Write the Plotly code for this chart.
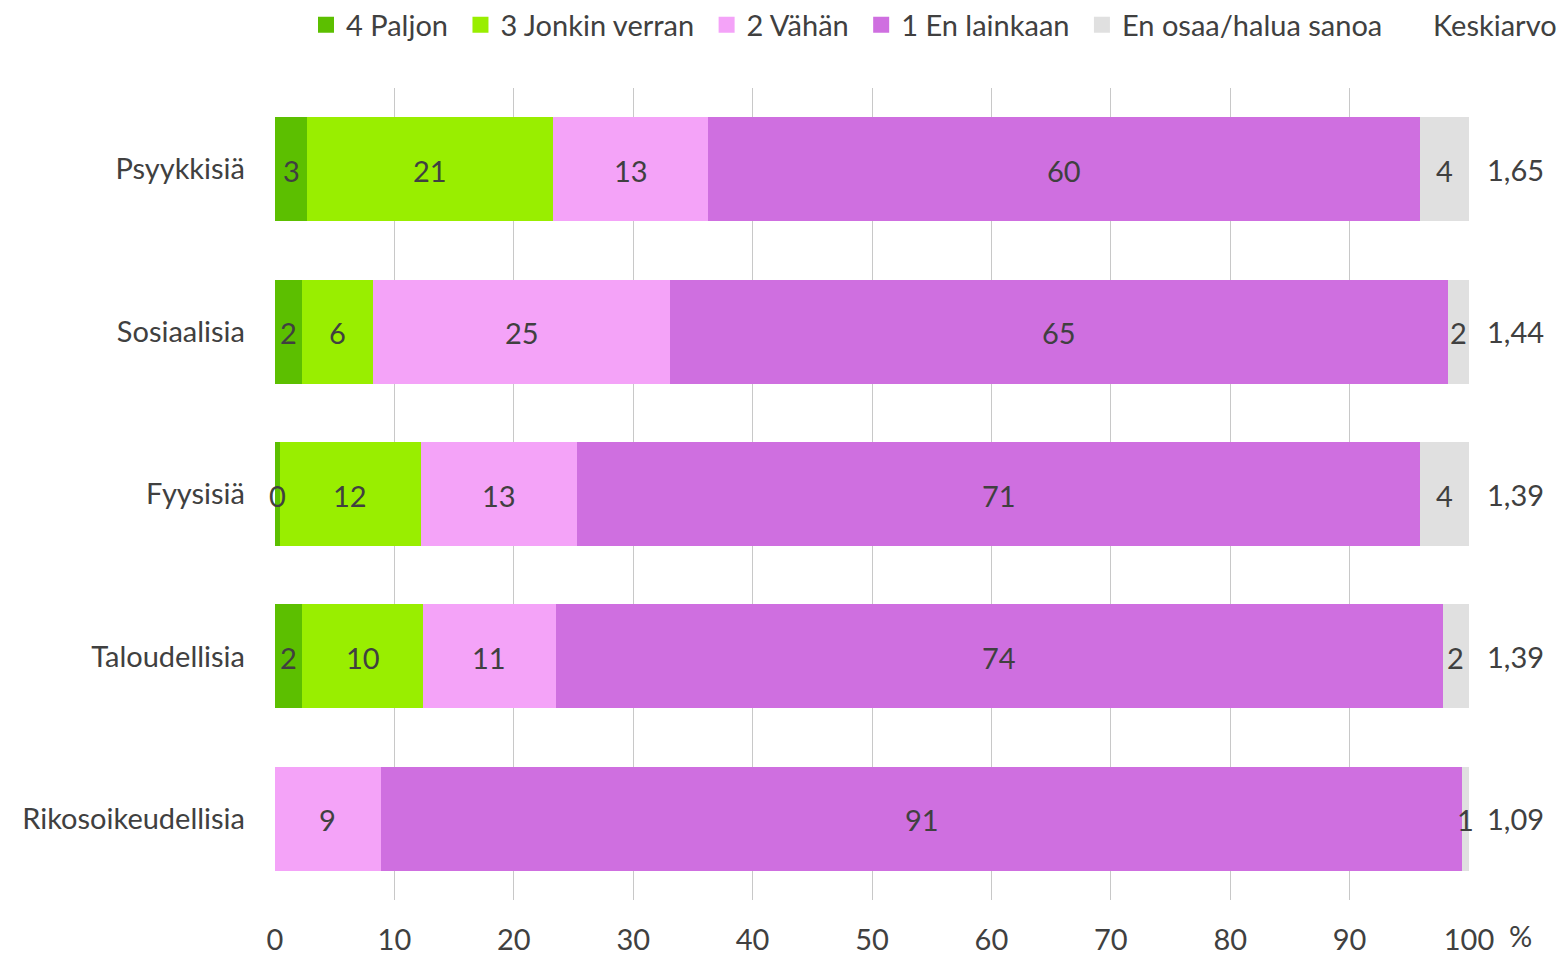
import plotly.graph_objects as go

categories = ["Psyykkisiä", "Sosiaalisia", "Fyysisiä", "Taloudellisia", "Rikosoikeudellisia"]
series_names = ["4 Paljon", "3 Jonkin verran", "2 Vähän", "1 En lainkaan", "En osaa/halua sanoa"]
paljon = [2.7, 2.3, 0.4, 2.3, None]
jonkin = [20.6, 5.9, 11.8, 10.1, None]
vahan = [13.0, 24.9, 13.1, 11.1, 8.85]
ei_lainkaan = [59.6, 65.1, 70.6, 74.3, 90.6]
eos = [4.1, 1.8, 4.1, 2.2, 0.55]
keskiarvo = ["1,65", "1,44", "1,39", "1,39", "1,09"]
x_ticks = [0, 10, 20, 30, 40, 50, 60, 70, 80, 90, 100]

colors = ["#5CBF00", "#99EE00", "#F4A3F8", "#CF6FE0", "#E0E0E0"]
FONT = "Lato"
FS = 29
TXT = "#404040"

W, H = 1561, 955
L, T = 275, 88
PW, PH = 1194, 812

series = [paljon, jonkin, vahan, ei_lainkaan, eos]

fig = go.Figure()
for name, vals, col in zip(series_names, series, colors):
    fig.add_trace(go.Bar(
        y=categories, x=vals, name=name, orientation="h",
        marker=dict(color=col, line=dict(width=0)),
        showlegend=False, hoverinfo="x+y",
    ))

# legend entries with larger square markers
n = len(series_names)
for j, (name, col) in enumerate(zip(series_names, colors)):
    label = name + ("\u00a0" if j < n - 1 else "")
    fig.add_trace(go.Scatter(x=[None], y=[None], mode="markers", name=label,
                             marker=dict(symbol="square", size=16, color=col)))

# segment value labels, drawn on top and not clipped
for i, cat in enumerate(categories):
    cum = 0.0
    for vals in series:
        v = vals[i]
        if v is None:
            continue
        fig.add_annotation(x=cum + v / 2, y=cat, xref="x", yref="y", text=f"{v:.0f}",
                           showarrow=False, xanchor="center", yanchor="middle", yshift=-1,
                           font=dict(family=FONT, size=FS, color=TXT))
        cum += v

for cat, k in zip(categories, keskiarvo):
    fig.add_annotation(x=1.0, xref="paper", y=cat, yref="y", text=k, showarrow=False,
                       xanchor="left", xshift=16, font=dict(family=FONT, size=FS, color=TXT))

fig.add_annotation(x=(1431 - L) / PW, xref="paper", y=(T + PH - 25) / PH, yref="paper", yanchor="middle",
                   text="Keskiarvo", showarrow=False, xanchor="left",
                   font=dict(family=FONT, size=FS, color=TXT))
fig.add_annotation(x=1.0, xref="paper", y=0, yref="paper", text="%", showarrow=False,
                   xanchor="left", yanchor="top", xshift=38, yshift=-16,
                   font=dict(family=FONT, size=FS, color=TXT))

fig.update_layout(
    barmode="stack", bargap=0.36,
    width=W, height=H,
    margin=dict(l=L, r=W - L - PW, t=T, b=H - T - PH, autoexpand=False),
    plot_bgcolor="white", paper_bgcolor="white",
    font=dict(family=FONT, size=FS, color=TXT),
    legend=dict(orientation="h", xref="container", yref="container", x=1388 / W, xanchor="right",
                y=1 - 25 / H, yanchor="middle", font=dict(family=FONT, size=FS, color=TXT),
                itemclick=False, traceorder="normal", itemwidth=30),
    xaxis=dict(range=[0, 100], tickvals=x_ticks, showgrid=True, gridcolor="#C8C8C8", gridwidth=1,
               zeroline=False, showline=False, ticks="", ticklabelstandoff=20, automargin=False,
               tickfont=dict(family=FONT, size=FS, color=TXT), fixedrange=True),
    yaxis=dict(categoryorder="array", categoryarray=categories, autorange="reversed",
               showgrid=False, zeroline=False, ticks="", ticklabelstandoff=29, automargin=False,
               tickfont=dict(family=FONT, size=FS, color=TXT), fixedrange=True),
)

fig.write_html("out.html", config={"displayModeBar": False},
               post_script="document.body.style.margin='0px';")
